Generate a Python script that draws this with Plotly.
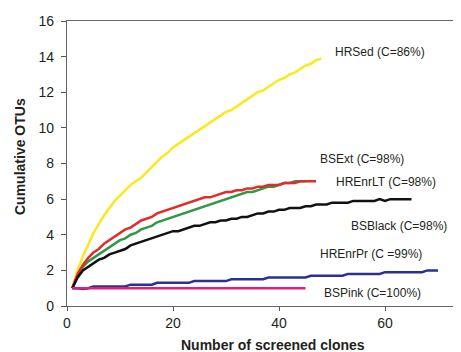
import plotly.graph_objects as go

# Cumulative OTUs per number of screened clones
hrsed = [1.0, 2.0, 2.8, 3.5, 4.1, 4.6, 5.1, 5.5, 5.9, 6.2, 6.5, 6.8, 7.0, 7.2, 7.5, 7.8,
         8.1, 8.4, 8.6, 8.9, 9.1, 9.3, 9.5, 9.7, 9.9, 10.1, 10.3, 10.5, 10.7, 10.9, 11.0,
         11.2, 11.4, 11.6, 11.8, 12.0, 12.1, 12.3, 12.5, 12.7, 12.8, 13.0, 13.1, 13.3,
         13.5, 13.6, 13.8, 13.9]
hrenrlt = [1.0, 1.8, 2.3, 2.7, 3.0, 3.2, 3.5, 3.7, 3.9, 4.1, 4.3, 4.4, 4.6, 4.8, 4.9, 5.0,
           5.2, 5.3, 5.4, 5.5, 5.6, 5.7, 5.8, 5.9, 6.0, 6.1, 6.1, 6.2, 6.3, 6.4, 6.4, 6.5,
           6.5, 6.6, 6.6, 6.7, 6.7, 6.8, 6.8, 6.8, 6.9, 6.9, 6.9, 7.0, 7.0, 7.0, 7.0]
bsext = [1.0, 1.7, 2.2, 2.5, 2.7, 2.9, 3.1, 3.3, 3.5, 3.7, 3.8, 4.0, 4.1, 4.3, 4.4, 4.5,
         4.7, 4.8, 4.9, 5.0, 5.1, 5.2, 5.3, 5.4, 5.5, 5.6, 5.7, 5.8, 5.9, 6.0, 6.1, 6.2,
         6.3, 6.4, 6.4, 6.5, 6.6, 6.7, 6.7, 6.8, 6.9, 6.9, 7.0, 7.0, 7.0]
bsblack = [1.0, 1.6, 2.0, 2.2, 2.4, 2.6, 2.7, 2.9, 3.0, 3.1, 3.2, 3.4, 3.5, 3.6, 3.7, 3.8,
           3.9, 4.0, 4.1, 4.2, 4.2, 4.3, 4.4, 4.5, 4.5, 4.6, 4.7, 4.7, 4.8, 4.8, 4.9, 4.9,
           5.0, 5.0, 5.1, 5.2, 5.2, 5.3, 5.3, 5.4, 5.4, 5.5, 5.5, 5.5, 5.6, 5.6, 5.7, 5.7,
           5.7, 5.8, 5.8, 5.8, 5.8, 5.9, 5.9, 5.9, 5.9, 5.9, 6.0, 5.9, 6.0, 6.0, 6.0, 6.0,
           6.0]
hrenrpr = [1.0, 1.0, 0.95, 1.0, 1.1, 1.1, 1.1, 1.1, 1.1, 1.1, 1.1, 1.2, 1.2, 1.2, 1.2, 1.2,
           1.3, 1.3, 1.3, 1.3, 1.3, 1.3, 1.3, 1.4, 1.4, 1.4, 1.4, 1.4, 1.4, 1.4, 1.5, 1.5,
           1.5, 1.5, 1.5, 1.5, 1.5, 1.6, 1.6, 1.6, 1.6, 1.6, 1.6, 1.6, 1.6, 1.7, 1.7, 1.7,
           1.7, 1.7, 1.7, 1.7, 1.8, 1.8, 1.8, 1.8, 1.8, 1.8, 1.8, 1.9, 1.9, 1.9, 1.9, 1.9,
           1.9, 1.9, 1.9, 2.0, 2.0, 2.0]
bspink = [1.0] * 45

series_names = ["HRSed", "BSExt", "HREnrLT", "BSBlack", "HREnrPr", "BSPink"]
series_values = [hrsed, bsext, hrenrlt, bsblack, hrenrpr, bspink]
series_colors = ["#FAE91C", "#2E9A48", "#E42B2B", "#111111", "#2B3190", "#E0207E"]

labels = ["HRSed (C=86%)", "BSExt (C=98%)", "HREnrLT (C=98%)", "BSBlack (C=98%)",
          "HREnrPr (C =99%)", "BSPink (C=100%)"]
label_x = [50.2, 47.4, 50.3, 53.3, 47.4, 48.2]
label_y = [14.27, 8.26, 6.98, 4.5, 2.92, 0.75]

x_ticks = [0, 20, 40, 60]
y_ticks = [0, 2, 4, 6, 8, 10, 12, 14, 16]

FONT = "Liberation Sans, Arial, sans-serif"
TXT = "#231F20"

fig = go.Figure()
for name, vals, col in zip(series_names, series_values, series_colors):
    fig.add_trace(go.Scatter(
        x=list(range(1, len(vals) + 1)), y=vals, mode="lines", name=name,
        line=dict(color=col, width=2.5), showlegend=False, hoverinfo="skip"))

for t, xx, yy in zip(labels, label_x, label_y):
    fig.add_annotation(x=xx, y=yy, text=t, showarrow=False, xanchor="left",
                       yanchor="middle", font=dict(family=FONT, size=12, color=TXT))

# axis titles placed in paper coordinates (plot area: 394 x 285 px)
fig.add_annotation(xref="paper", yref="paper", x=(272.5 - 67) / 394, y=(306 - 345) / 285,
                   text="<b>Number of screened clones</b>", showarrow=False,
                   xanchor="center", yanchor="middle",
                   font=dict(family=FONT, size=14, color=TXT))
fig.add_annotation(xref="paper", yref="paper", x=(20 - 67) / 394, y=(306 - 157) / 285,
                   text="<b>Cumulative OTUs</b>", showarrow=False, textangle=-90,
                   xanchor="center", yanchor="middle",
                   font=dict(family=FONT, size=14, color=TXT))

# the page body has an 8px margin, so the figure is sized to end at the window edge
fig.update_layout(
    width=453, height=344,
    margin=dict(l=59, r=0, t=13, b=46),
    paper_bgcolor="white", plot_bgcolor="white",
    font=dict(family=FONT, size=14, color=TXT),
)
fig.update_xaxes(range=[0, 74.34], tickvals=x_ticks, ticks="outside", ticklen=4,
                 tickcolor="#555", showline=True, linecolor="#666", linewidth=1.2,
                 mirror=True, showgrid=False, zeroline=False,
                 tickfont=dict(family=FONT, size=14, color=TXT))
fig.update_yaxes(range=[0, 16], tickvals=y_ticks, ticks="outside", ticklen=5,
                 tickcolor="#555", showline=True, linecolor="#666", linewidth=1.2,
                 showgrid=False, zeroline=False, ticklabelstandoff=4,
                 tickfont=dict(family=FONT, size=14, color=TXT))

fig.write_html("out.html")
